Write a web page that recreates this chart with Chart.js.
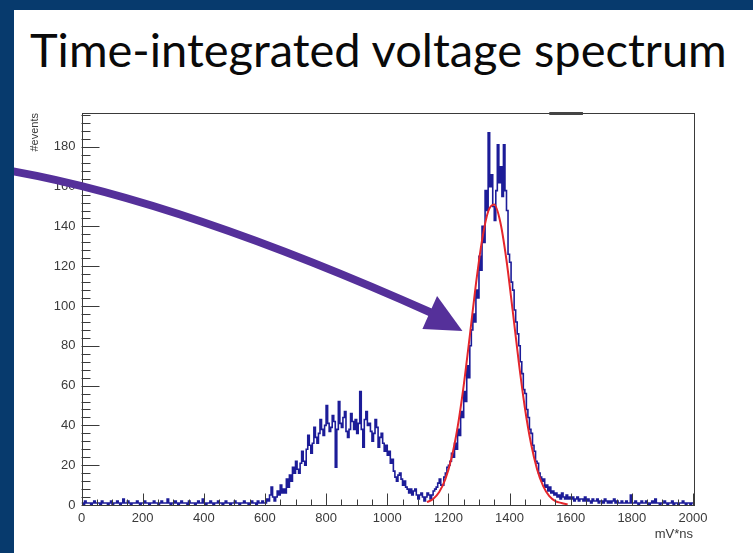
<!DOCTYPE html>
<html>
<head>
<meta charset="utf-8">
<script src="https://cdn.jsdelivr.net/npm/chart.js@4.4.0/dist/chart.umd.min.js"></script>
<style>
html, body { margin: 0; padding: 0; }
body { width: 753px; height: 553px; background: #073a6d; position: relative; overflow: hidden; }
#panel { position: absolute; left: 14px; top: 10px; width: 739px; height: 543px; background: #fff; }
#title { position: absolute; left: 30px; top: 26px; margin: 0; font-family: 'Lato'; font-weight: normal;
         font-size: 48px; line-height: 1; color: #0a0a0a; white-space: nowrap; }
#chart { position: absolute; left: 14px; top: 10px; }
</style>
</head>
<body>
<div id="panel"></div>
<h1 id="title">Time-integrated voltage spectrum</h1>
<canvas id="chart" width="739" height="543"></canvas>
<script>
// histogram: 5 mV*ns bins starting at 0, heights
const binWidth = 5
const countsFlat = [1,0,2,1,1,1,0,1,2,1, 1,1,0,2,1,1,1,0,1,2, 0,1,1,2,1,0,1,3,1,1,
    2,1,0,1,1,1,2,1,0,1, 1,2,1,1,0,1,1,2,1,1, 0,1,2,1,1,1,3,1,0,1,
    1,2,1,0,1,2,1,1,1,0, 2,1,1,1,0,1,2,1,1,3, 1,0,1,1,2,1,0,1,1,2,
    1,1,0,1,2,1,1,0,1,1, 2,1,1,0,1,1,2,1,1,0, 1,2,1,1,0,2,1,1,2,1]          // 0 - 595
const countsBump = [1,3,2,5,9,4,2,4,7,5, 10,6,8,6,13,9,15,12,19,16,
    22,18,16,21,27,22,20,28,35,30, 26,31,39,34,31,36,43,38,35,40,
    50,41,37,39,45,42,19,38,52,41, 39,44,47,37,34,38,46,42,38,43,
    36,41,57,38,29,43,47,40,41,37, 32,36,43,39,29,34,36,31,27,30,
    25,27,21,23,17,14,12,15,16,13, 10,12,9,8,6,8,5,7,8,5,
    3,5,6,4,2,4,6,5,3,5, 7,8,9,11,13,10,10,14,16,19]                    // 600 - 1195
const countsPeak = [20,22,26,24,31,28,38,35,47,44, 57,52,70,64,80,88,96,92,108,104,
    125,118,140,132,158,148,187,160,166,150, 143,158,181,162,170,155,181,158,148,126,
    122,112,108,98,92,86,80,72,66,58, 56,48,44,38,36,30,27,22,21,16,
    14,12,13,9,10,7,9,6,7,5, 6,4,5,3,6,4,3,5,3,4]                           // 1200 - 1595
const countsTail = [3,4,2,3,4,2,3,3,2,4, 2,3,2,1,3,2,2,3,1,2, 2,1,3,2,1,2,1,2,3,1,
    2,1,1,2,1,1,2,1,1,5, 1,1,2,1,0,1,2,1,1,2, 1,0,1,2,1,3,1,1,0,1,
    1,2,1,0,1,1,2,0,1,1, 0,1,1,2,1,0,1,1,0,1]                               // 1600 - 1995

// gaussian fit curve (red), read at 20 mV*ns steps
const fitX = [1130,1150,1170,1190,1210,1230,1250,1270,1290,1310,1330,1350,
    1370,1390,1410,1430,1450,1470,1490,1510,1530,1550,1570,1590]
const fitY = [1.4,3,6.5,13,23.5,39,60,85,111,133,147.5,151,
    142,123,98,72,49,31,18,9.5,4.5,2,1,0.3]

const xTicks = [0,200,400,600,800,1000,1200,1400,1600,1800,2000]
const yTicks = [0,20,40,60,80,100,120,140,160,180]

const counts = countsFlat.concat(countsBump, countsPeak, countsTail)
const histPoints = counts.map((c, i) => ({x: i * binWidth, y: c}))
histPoints.push({x: counts.length * binWidth, y: counts[counts.length - 1]})
const fitPoints = fitX.map((x, i) => ({x: x, y: fitY[i]}))

// arrow annotation, in data units (starts left of the axis)
const arrowStart = [-235, 168]
const arrowBend = [322, 153]
const arrowEnd = [1146, 96.5]
const arrowHead = [[1246, 87.5], [1163, 105], [1115, 88.5]]

/** ROOT style frame: box plus inward major/minor ticks on left and bottom */
const frameTicks = {
    id: 'frameTicks',
    afterDatasetsDraw(chart){
        const {ctx, chartArea: a, scales: {x, y}} = chart
        ctx.save()
        ctx.strokeStyle = '#3a3a3a'
        ctx.lineWidth = 1
        ctx.strokeRect(Math.round(a.left) + 0.5, Math.round(a.top) + 0.5,
            Math.round(a.right - a.left), Math.round(a.bottom - a.top))
        ctx.beginPath()
        for (let v = 0; v <= 2000; v += 50){
            const px = Math.round(x.getPixelForValue(v)) + 0.5
            const len = v % 200 === 0 ? 11.5 : 5.5
            ctx.moveTo(px, a.bottom)
            ctx.lineTo(px, a.bottom - len)
        }
        for (let v = 0; v <= 196; v += 4){
            const py = Math.round(y.getPixelForValue(v)) + 0.5
            const len = v % 20 === 0 ? 18 : 9
            ctx.moveTo(a.left, py)
            ctx.lineTo(a.left + len, py)
        }
        ctx.stroke()
        // dark smudge on the top edge of the frame
        ctx.lineWidth = 3
        ctx.strokeStyle = '#444'
        ctx.beginPath()
        ctx.moveTo(x.getPixelForValue(1530), a.top + 0.5)
        ctx.lineTo(x.getPixelForValue(1640), a.top + 0.5)
        ctx.stroke()
        ctx.restore()
    }
}

const arrow = {
    id: 'arrow',
    afterDraw(chart){
        const {ctx, scales: {x, y}} = chart
        const p = (pt) => [x.getPixelForValue(pt[0]), y.getPixelForValue(pt[1])]
        const s = p(arrowStart), b = p(arrowBend), e = p(arrowEnd)
        ctx.save()
        ctx.strokeStyle = '#55309a'
        ctx.fillStyle = '#55309a'
        ctx.lineWidth = 8
        ctx.beginPath()
        ctx.moveTo(s[0], s[1])
        ctx.quadraticCurveTo(b[0], b[1], e[0], e[1])
        ctx.stroke()
        ctx.beginPath()
        arrowHead.forEach((pt, i) => {
            const q = p(pt)
            if (i === 0) ctx.moveTo(q[0], q[1])
            else ctx.lineTo(q[0], q[1])
        })
        ctx.closePath()
        ctx.fill()
        ctx.restore()
    }
}

const labelFont = {family: 'Liberation Sans', size: 13}
const plainLabel = (v) => String(v)

const ctx = document.getElementById('chart')
let myChart = new Chart(ctx, {
    type: 'line',
    data: {
        datasets: [{
            label: 'fit',
            data: fitPoints,
            borderColor: '#e4262c',
            borderWidth: 2,
            pointRadius: 0,
            cubicInterpolationMode: 'monotone',
            order: 0
        }, {
            label: '#events',
            data: histPoints,
            borderColor: '#1c1c98',
            borderWidth: 1.6,
            pointRadius: 0,
            stepped: 'before',
            order: 1
        }]
    },
    options: {
        responsive: false,
        animation: false,
        devicePixelRatio: 1,
        layout: {padding: {top: 103, right: 60, left: 0, bottom: 0}},
        plugins: {legend: {display: false}, tooltip: {enabled: false}, title: {display: false}},
        scales: {
            x: {
                type: 'linear', min: 0, max: 2000,
                grid: {display: false, drawTicks: false},
                border: {display: false},
                afterBuildTicks: (s) => { s.ticks = xTicks.map(v => ({value: v})) },
                afterFit: (s) => { s.height = 48 },
                ticks: {padding: 6, color: '#3a3a3a', font: labelFont, maxRotation: 0, autoSkip: false,
                    callback: plainLabel},
                title: {display: true, text: 'mV*ns', align: 'end', color: '#3a3a3a',
                    font: labelFont, padding: {top: 0, bottom: 11}}
            },
            y: {
                type: 'linear', min: 0, max: 197,
                grid: {display: false, drawTicks: false},
                border: {display: false},
                afterBuildTicks: (s) => { s.ticks = yTicks.map(v => ({value: v})) },
                afterFit: (s) => { s.width = 67.5 },
                ticks: {padding: 6, color: '#3a3a3a', font: labelFont, callback: plainLabel},
                title: {display: true, text: '#events', align: 'end', color: '#3a3a3a',
                    font: {family: 'Liberation Sans', size: 11}, padding: {top: 14, bottom: 0}}
            }
        }
    },
    plugins: [frameTicks, arrow]
});

// fit the title to the width it has in the slide
const title = document.getElementById('title')
const w = title.getBoundingClientRect().width
const size = 48 * 697 / w
title.style.fontSize = size + 'px'
title.style.top = (68 - 0.887 * size) + 'px'
</script>
</body>
</html>
